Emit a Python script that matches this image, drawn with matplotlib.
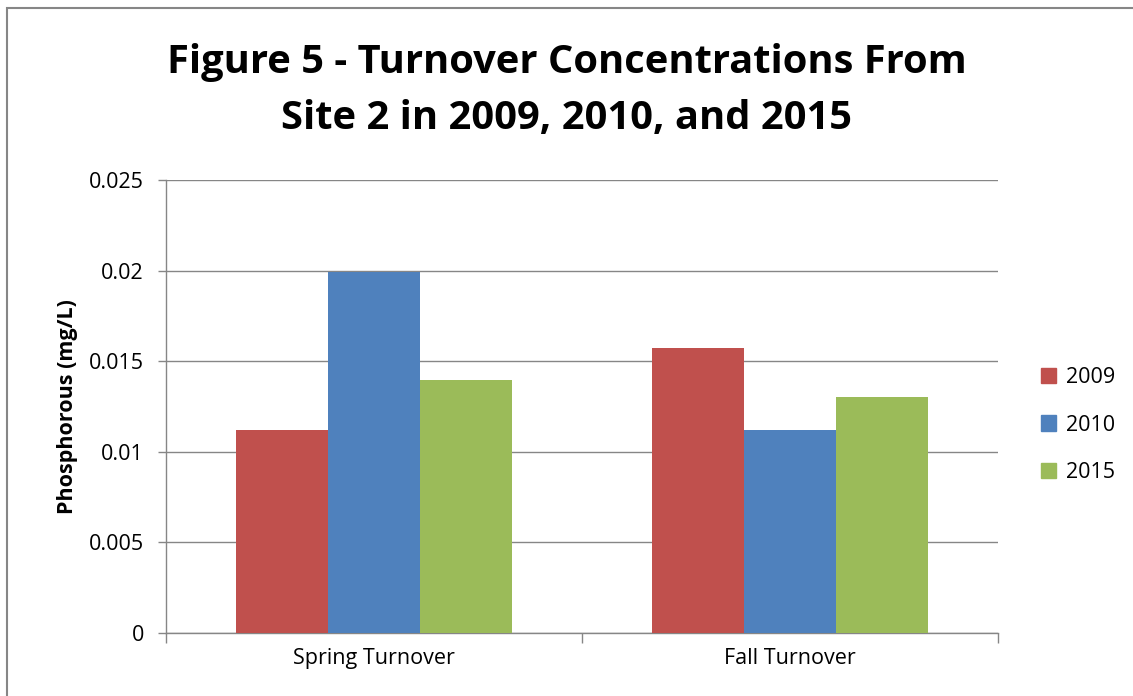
import numpy as np
import matplotlib.pyplot as plt
from matplotlib.patches import Rectangle, Patch

categories = ["Spring Turnover", "Fall Turnover"]
years = ["2009", "2010", "2015"]
values_2009 = [0.01123, 0.01575]
values_2010 = [0.01993, 0.01118]
values_2015 = [0.01399, 0.0130]
colors = ["#C0504D", "#4F81BD", "#9BBB59"]

plt.rcParams["font.family"] = ["Open Sans", "DejaVu Sans"]

fig = plt.figure(figsize=(11.33, 6.96), dpi=100)
fig.patches.append(Rectangle((7 / 1133, -0.1), 1.2, (696 - 8) / 696 + 0.1,
                             transform=fig.transFigure, fill=False,
                             edgecolor="#868686", linewidth=1.5))

ax = fig.add_axes([166 / 1133, 63 / 696, 832 / 1133, 453 / 696])
x = np.arange(len(categories))
w = 0.221
for i, (vals, c) in enumerate(zip([values_2009, values_2010, values_2015], colors)):
    ax.bar(x + (i - 1) * w, vals, width=w, color=c, label=years[i], zorder=3)

ax.set_xlim(-0.5, 1.5)
ax.set_ylim(0, 0.025)
ax.set_yticks([0, 0.005, 0.01, 0.015, 0.02, 0.025])
ax.set_yticklabels(["0", "0.005", "0.01", "0.015", "0.02", "0.025"])
ax.yaxis.grid(True, color="#868686", linewidth=1)
ax.set_axisbelow(True)

ax.set_xticks(x)
ax.set_xticklabels(categories)
ax.set_xticks([-0.5, 0.5, 1.5], minor=True)
ax.tick_params(axis="x", which="major", length=0, pad=11, labelsize=15.5)
ax.tick_params(axis="x", which="minor", length=7, color="#868686", width=1)
ax.tick_params(axis="y", length=6, color="#868686", width=1, labelsize=15.5, pad=10)

for s in ["top", "right"]:
    ax.spines[s].set_visible(False)
for s in ["left", "bottom"]:
    ax.spines[s].set_color("#868686")
    ax.spines[s].set_linewidth(1)

ax.set_ylabel("Phosphorous (mg/L)", fontsize=15.5, fontweight="bold", labelpad=8)

handles = [Patch(color=c, label=y) for c, y in zip(colors, years)]
fig.legend(handles=handles, loc="center left", bbox_to_anchor=(1030 / 1133, 1 - 425 / 696),
           frameon=False, fontsize=15.5, handlelength=0.7, handleheight=0.7,
           labelspacing=1.25, handletextpad=0.45, borderpad=0)

fig.text(0.5, 1 - 62 / 696, "Figure 5 - Turnover Concentrations From",
         ha="center", va="center", fontsize=28.7, fontweight="bold")
fig.text(0.5, 1 - 118 / 696, "Site 2 in 2009, 2010, and 2015",
         ha="center", va="center", fontsize=28.7, fontweight="bold")

fig.savefig("out.png", dpi=100)
